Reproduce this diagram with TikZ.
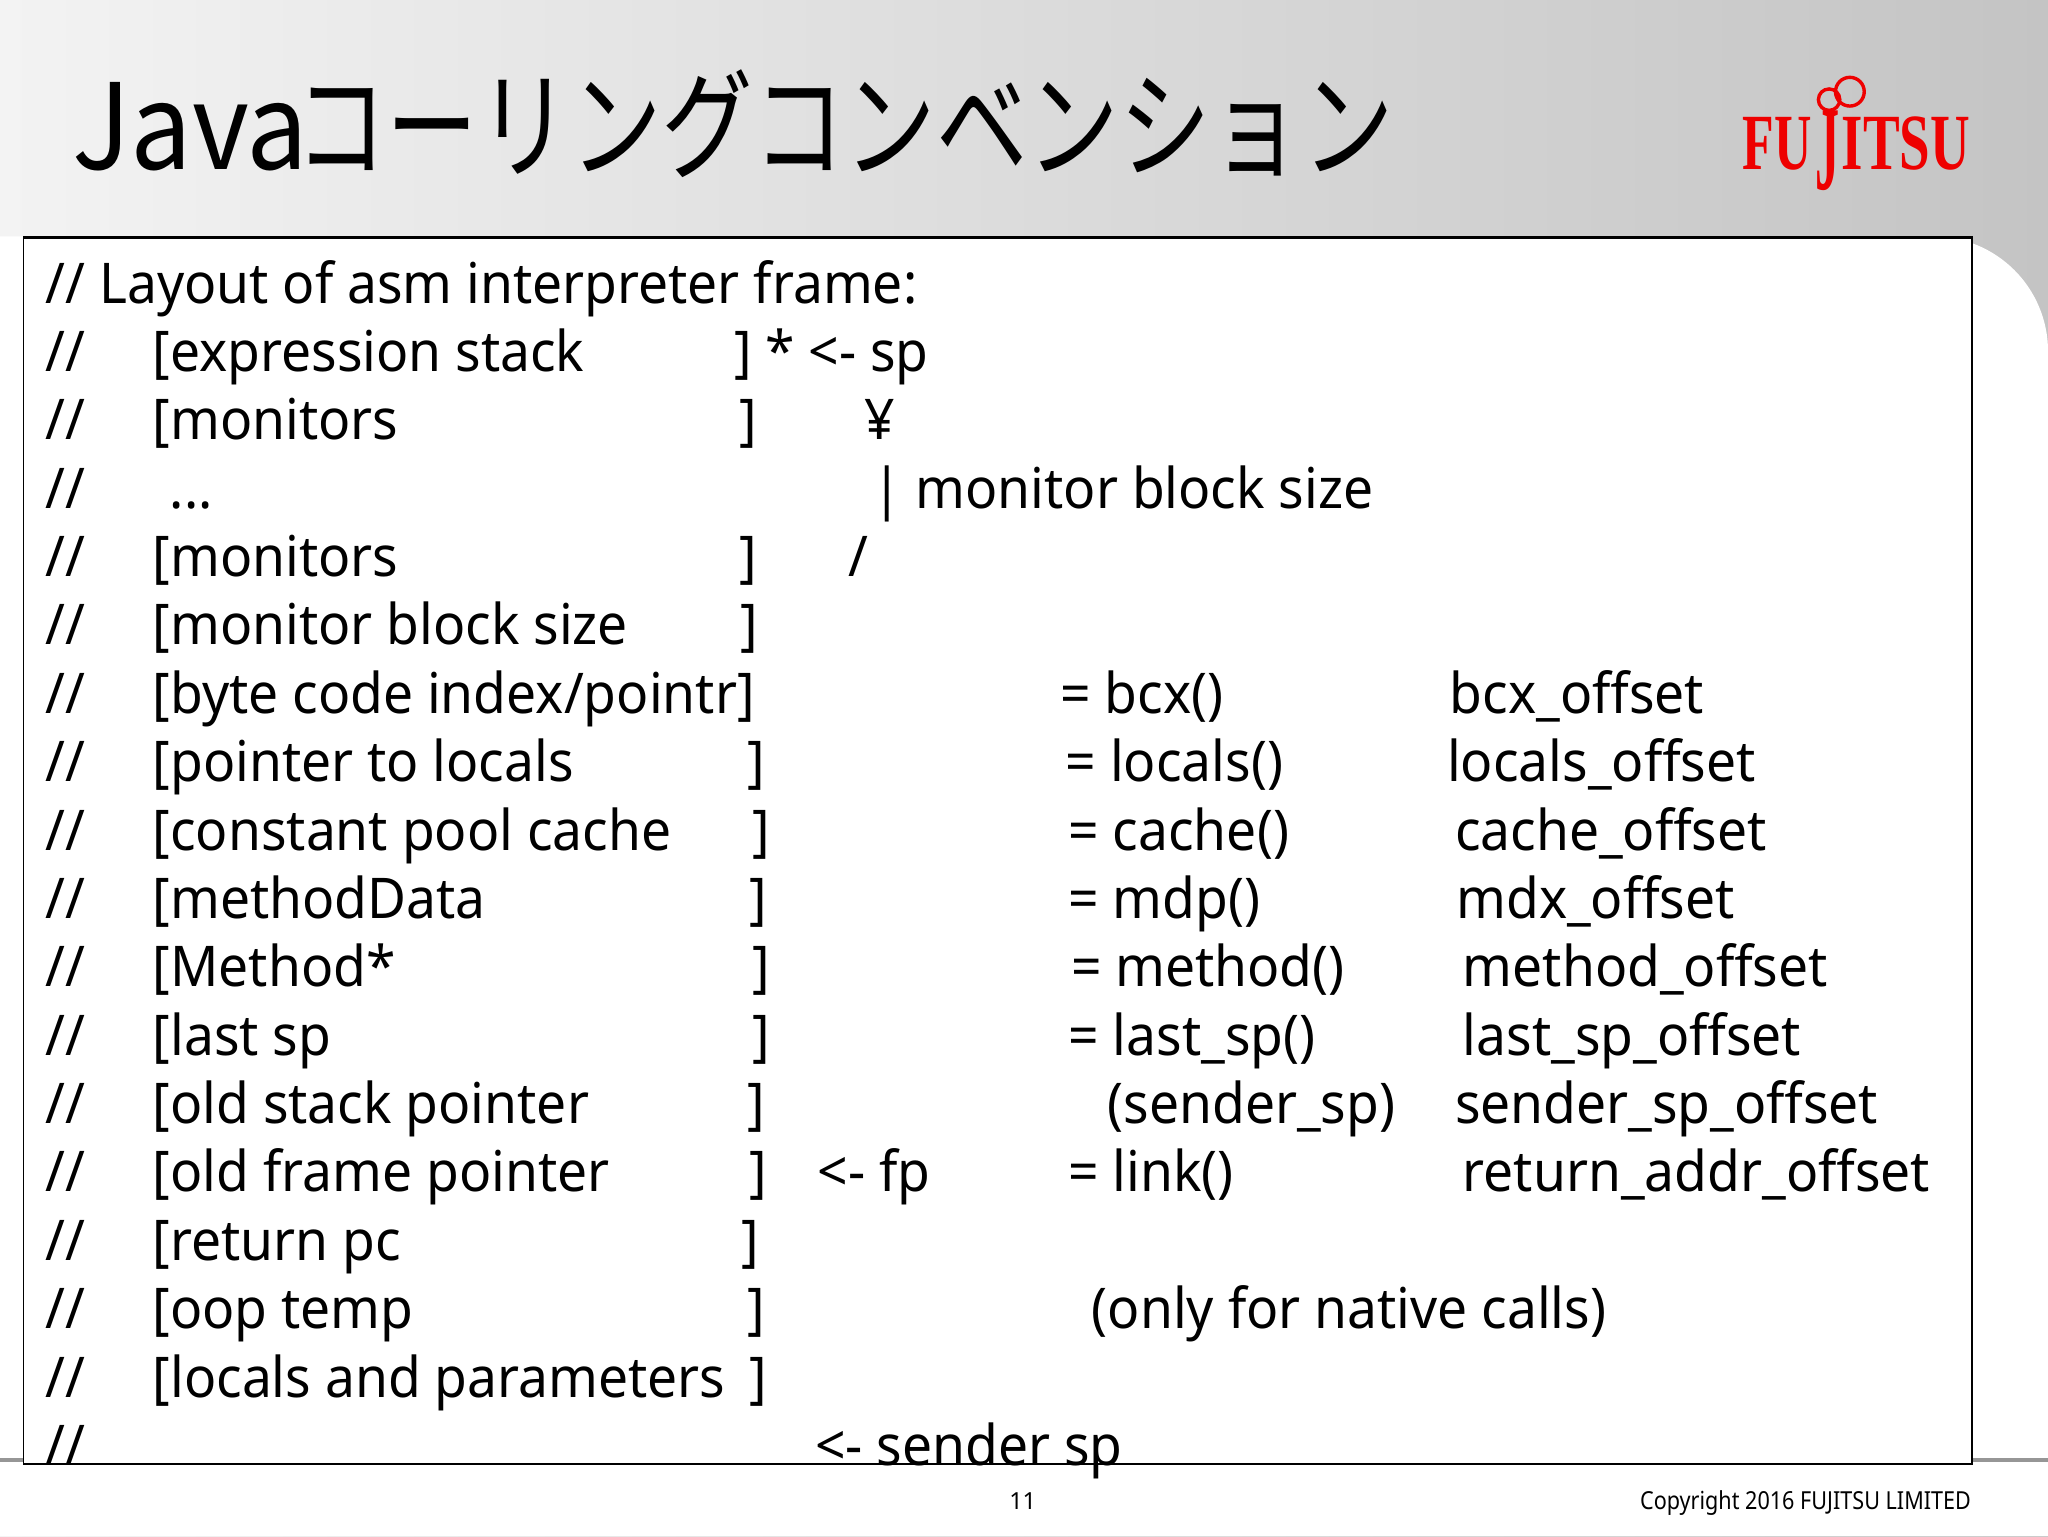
\documentclass[tikz,border=0pt]{standalone}
\usepackage{fontspec}
\setmainfont{Noto Sans}
\newfontfamily\jpfont{Noto Sans CJK JP}
\newfontfamily\logofont{Liberation Serif}
\definecolor{bgL}{RGB}{243,243,243}
\definecolor{bgM}{RGB}{229,229,229}
\definecolor{bgR}{RGB}{196,196,196}
\definecolor{fjred}{RGB}{238,0,0}
\definecolor{sepgray}{RGB}{150,150,150}
\newcommand{\sq}[1]{\scalebox{0.95}[1]{#1}}
\tikzset{
  txt/.style={anchor=base west, inner sep=0pt, outer sep=0pt, font=\fontsize{43}{48}\selectfont},
  foot/.style={inner sep=0pt, outer sep=0pt, font=\fontsize{19}{22}\selectfont},
  logo/.style={anchor=base west, inner sep=0pt, outer sep=0pt, text=fjred},
}
\begin{document}
\begin{tikzpicture}[x=1pt,y=-1pt]
\useasboundingbox (0,0) rectangle (1568,1176);
% background
\shade[left color=bgL, middle color=bgM, right color=bgR] (0,0) rectangle (1568,1176);
\fill[white] (0,1176) -- (0,181) -- (1480,181) .. controls (1528.6,181) and (1568,220.4) .. (1568,269) -- (1568,1176) -- cycle;
% separator line
\draw[sepgray, line width=3pt] (0,1117.5) -- (1568,1117.5);
% frame
\draw[black, line width=1.3pt, fill=white] (18,181) rectangle (1510,1121);
\draw[black, line width=2.2pt] (18,181.5) -- (1510,181.5);
% title
\node[anchor=base west, inner sep=0pt] (tj) at (55,130) {\fontsize{91}{100}\jpfont\selectfont\scalebox{0.92}[1]{Java}};
\node[anchor=base west, inner sep=0pt] (tk) at (226,130) {\fontsize{91}{100}\jpfont\selectfont\scalebox{0.77}[1]{コーリングコンベンション}};
% logo
\node[logo] (lfu) at (1334,130) {\fontsize{61}{64}\logofont\bfseries\selectfont\scalebox{0.65}[1]{FU}};
\node[logo] (lj) at (1390,145) {\fontsize{92}{96}\logofont\bfseries\selectfont\scalebox{0.4}[1]{J}};
\node[logo] (litsu) at (1410,130) {\fontsize{61}{64}\logofont\bfseries\selectfont\scalebox{0.69}[1]{ITSU}};
\draw[fjred, line width=2.6pt] (1400.4,76.3) circle (8.2);
\draw[fjred, line width=2.6pt] (1416.3,70.2) circle (11);
% code lines
\node[txt] (l1) at (35,232) {\sq{// Layout of asm interpreter frame:}};
\node[txt] (s2) at (35,284.4) {\sq{//}};
\node[txt] (a2) at (117,284.4) {\sq{[expression stack}};
\node[txt] (b2) at (562,284.4) {\sq{] * <- sp}};
\node[txt] (s3) at (35,336.7) {\sq{//}};
\node[txt] (a3) at (117,336.7) {\sq{[monitors}};
\node[txt] (b3) at (566,336.7) {\sq{]}};
\node[txt] (c3) at (662,336.7) {\sq{¥}};
\node[txt] (s4) at (35,389.05) {\sq{//}};
\node[txt] (a4) at (130,389.05) {\sq{...}};
\node[txt] (c4) at (668,389.05) {\sq{| monitor block size}};
\node[txt] (s5) at (35,441.4) {\sq{//}};
\node[txt] (a5) at (117,441.4) {\sq{[monitors}};
\node[txt] (b5) at (566,441.4) {\sq{]}};
\node[txt] (c5) at (650,441.4) {\sq{/}};
\node[txt] (s6) at (35,493.75) {\sq{//}};
\node[txt] (a6) at (117,493.75) {\sq{[monitor block size}};
\node[txt] (b6) at (567,493.75) {\sq{]}};
\node[txt] (s7) at (35,546.1) {\sq{//}};
\node[txt] (a7) at (117,546.1) {\sq{[byte code index/pointr]}};
\node[txt] (d7) at (812,546.1) {\sq{= bcx()}};
\node[txt] (e7) at (1110,546.1) {\sq{bcx\_offset}};
\node[txt] (s8) at (35,598.45) {\sq{//}};
\node[txt] (a8) at (117,598.45) {\sq{[pointer to locals}};
\node[txt] (b8) at (572,598.45) {\sq{]}};
\node[txt] (d8) at (816,598.45) {\sq{= locals()}};
\node[txt] (e8) at (1108,598.45) {\sq{locals\_offset}};
\node[txt] (s9) at (35,650.8) {\sq{//}};
\node[txt] (a9) at (117,650.8) {\sq{[constant pool cache}};
\node[txt] (b9) at (576,650.8) {\sq{]}};
\node[txt] (d9) at (818,650.8) {\sq{= cache()}};
\node[txt] (e9) at (1114,650.8) {\sq{cache\_offset}};
\node[txt] (s10) at (35,703.15) {\sq{//}};
\node[txt] (a10) at (117,703.15) {\sq{[methodData}};
\node[txt] (b10) at (574,703.15) {\sq{]}};
\node[txt] (d10) at (818,703.15) {\sq{= mdp()}};
\node[txt] (e10) at (1115,703.15) {\sq{mdx\_offset}};
\node[txt] (s11) at (35,755.5) {\sq{//}};
\node[txt] (a11) at (117,755.5) {\sq{[Method*}};
\node[txt] (b11) at (576,755.5) {\sq{]}};
\node[txt] (d11) at (820,755.5) {\sq{= method()}};
\node[txt] (e11) at (1120,755.5) {\sq{method\_offset}};
\node[txt] (s12) at (35,807.85) {\sq{//}};
\node[txt] (a12) at (117,807.85) {\sq{[last sp}};
\node[txt] (b12) at (576,807.85) {\sq{]}};
\node[txt] (d12) at (818,807.85) {\sq{= last\_sp()}};
\node[txt] (e12) at (1120,807.85) {\sq{last\_sp\_offset}};
\node[txt] (s13) at (35,860.2) {\sq{//}};
\node[txt] (a13) at (117,860.2) {\sq{[old stack pointer}};
\node[txt] (b13) at (572,860.2) {\sq{]}};
\node[txt] (d13) at (848,860.2) {\sq{(sender\_sp)}};
\node[txt] (e13) at (1114,860.2) {\sq{sender\_sp\_offset}};
\node[txt] (s14) at (35,912.55) {\sq{//}};
\node[txt] (a14) at (117,912.55) {\sq{[old frame pointer}};
\node[txt] (b14) at (574,912.55) {\sq{]}};
\node[txt] (c14) at (626,912.55) {\sq{<- fp}};
\node[txt] (d14) at (818,912.55) {\sq{= link()}};
\node[txt] (e14) at (1120,912.55) {\sq{return\_addr\_offset}};
\node[txt] (s15) at (35,964.9) {\sq{//}};
\node[txt] (a15) at (117,964.9) {\sq{[return pc}};
\node[txt] (b15) at (568,964.9) {\sq{]}};
\node[txt] (s16) at (35,1017.25) {\sq{//}};
\node[txt] (a16) at (117,1017.25) {\sq{[oop temp}};
\node[txt] (b16) at (572,1017.25) {\sq{]}};
\node[txt] (d16) at (836,1017.25) {\sq{(only for native calls)}};
\node[txt] (s17) at (35,1069.6) {\sq{//}};
\node[txt] (a17) at (117,1069.6) {\sq{[locals and parameters}};
\node[txt] (b17) at (574,1069.6) {\sq{]}};
\node[txt] (s18) at (35,1121.95) {\sq{//}};
\node[txt] (c18) at (624,1121.95) {\sq{<- sender sp}};
% footer
\node[foot, anchor=base] (pg) at (783,1156) {\fontsize{18}{20}\selectfont 11};
\node[foot, anchor=base east] (cp) at (1509,1156) {\scalebox{0.87}[1]{Copyright 2016 FUJITSU LIMITED}};
\end{tikzpicture}
\end{document}
